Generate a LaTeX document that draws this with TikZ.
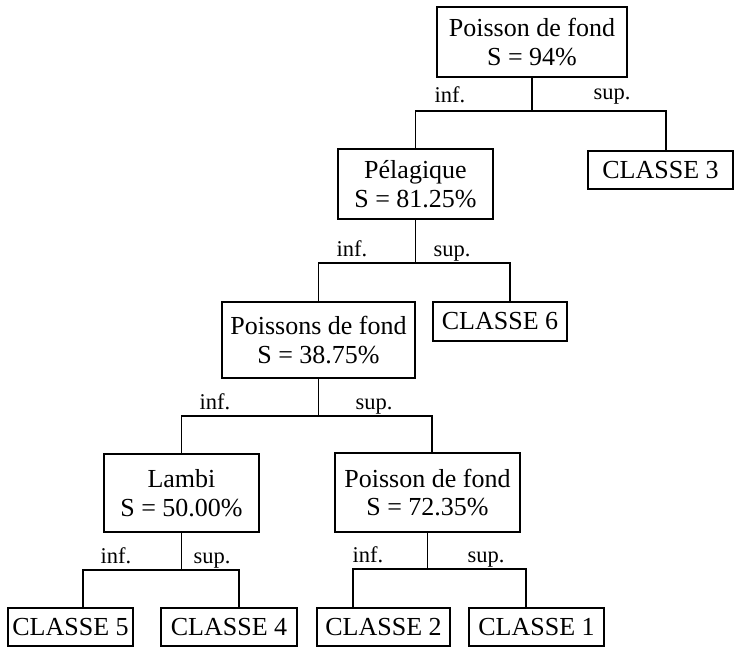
\documentclass[tikz,border=0pt]{standalone}
\usepackage{fontspec}
\setmainfont{Liberation Serif}
\begin{document}
\begin{tikzpicture}[x=1pt,y=-1pt,
  line width=1.6pt,
  box/.style={draw, line width=1.6pt, align=center, inner sep=0pt,
    font=\fontsize{26}{28.5}\selectfont},
  lab/.style={anchor=base, inner sep=0pt, font=\fontsize{22.5}{24}\selectfont},
  link/.style={line width=1.6pt}]
\useasboundingbox (0,0) rectangle (738,647);
% boxes (center, width, height)
\node[box, minimum width=190, minimum height=70] (root) at (532,42) {Poisson de fond\\S = 94\%};
\node[box, minimum width=155, minimum height=70] (pel) at (415.5,184) {Pélagique\\S = 81.25\%};
\node[box, minimum width=145, minimum height=38] (c3) at (660.5,170) {CLASSE 3};
\node[box, minimum width=193, minimum height=76] (pf) at (318.5,340) {Poissons de fond\\S = 38.75\%};
\node[box, minimum width=134, minimum height=39] (c6) at (500,321.5) {CLASSE 6};
\node[box, minimum width=155, minimum height=78] (lambi) at (181.5,493) {Lambi\\S = 50.00\%};
\node[box, minimum width=185, minimum height=79] (pf2) at (427.5,492.5) {Poisson de fond\\S = 72.35\%};
\node[box, minimum width=125, minimum height=38] (c5) at (70.5,627) {CLASSE 5};
\node[box, minimum width=136, minimum height=38] (c4) at (229,627) {CLASSE 4};
\node[box, minimum width=133, minimum height=38] (c2) at (383.5,627) {CLASSE 2};
\node[box, minimum width=135, minimum height=38] (c1) at (536.5,627) {CLASSE 1};
% junctions
\coordinate (j1) at (root.south |- 0,111);
\coordinate (j2) at (pel.south |- 0,263);
\coordinate (j3) at (pf.south |- 0,416);
\coordinate (j4) at (lambi.south |- 0,570);
\coordinate (j5) at (pf2.south |- 0,569);
% connectors
\draw[link] (root.south) -- (j1);
\draw[link] (pel.north) |- (j1) -| ([xshift=5.5]c3.north);
\draw[link] (pel.south) -- (j2);
\draw[link] (pf.north) |- (j2) -| ([xshift=10]c6.north);
\draw[link] (pf.south) -- (j3);
\draw[link] (lambi.north) |- (j3) -| ([xshift=4.5]pf2.north);
\draw[link] (lambi.south) -- (j4);
\draw[link] ([xshift=12.5]c5.north) |- (j4) -| ([xshift=10]c4.north);
\draw[link] (pf2.south) -- (j5);
\draw[link] ([xshift=-30.5]c2.north) |- (j5) -| ([xshift=-10.5]c1.north);
% labels
\node[lab] (l1i) at (450,103) {inf.};
\node[lab] (l1s) at (612,100) {sup.};
\node[lab] (l2i) at (352,256) {inf.};
\node[lab] (l2s) at (452,256) {sup.};
\node[lab] (l3i) at (215,409) {inf.};
\node[lab] (l3s) at (374,409) {sup.};
\node[lab] (l4i) at (116,563) {inf.};
\node[lab] (l4s) at (212,563) {sup.};
\node[lab] (l5i) at (368,562) {inf.};
\node[lab] (l5s) at (486,562) {sup.};
\end{tikzpicture}
\end{document}
